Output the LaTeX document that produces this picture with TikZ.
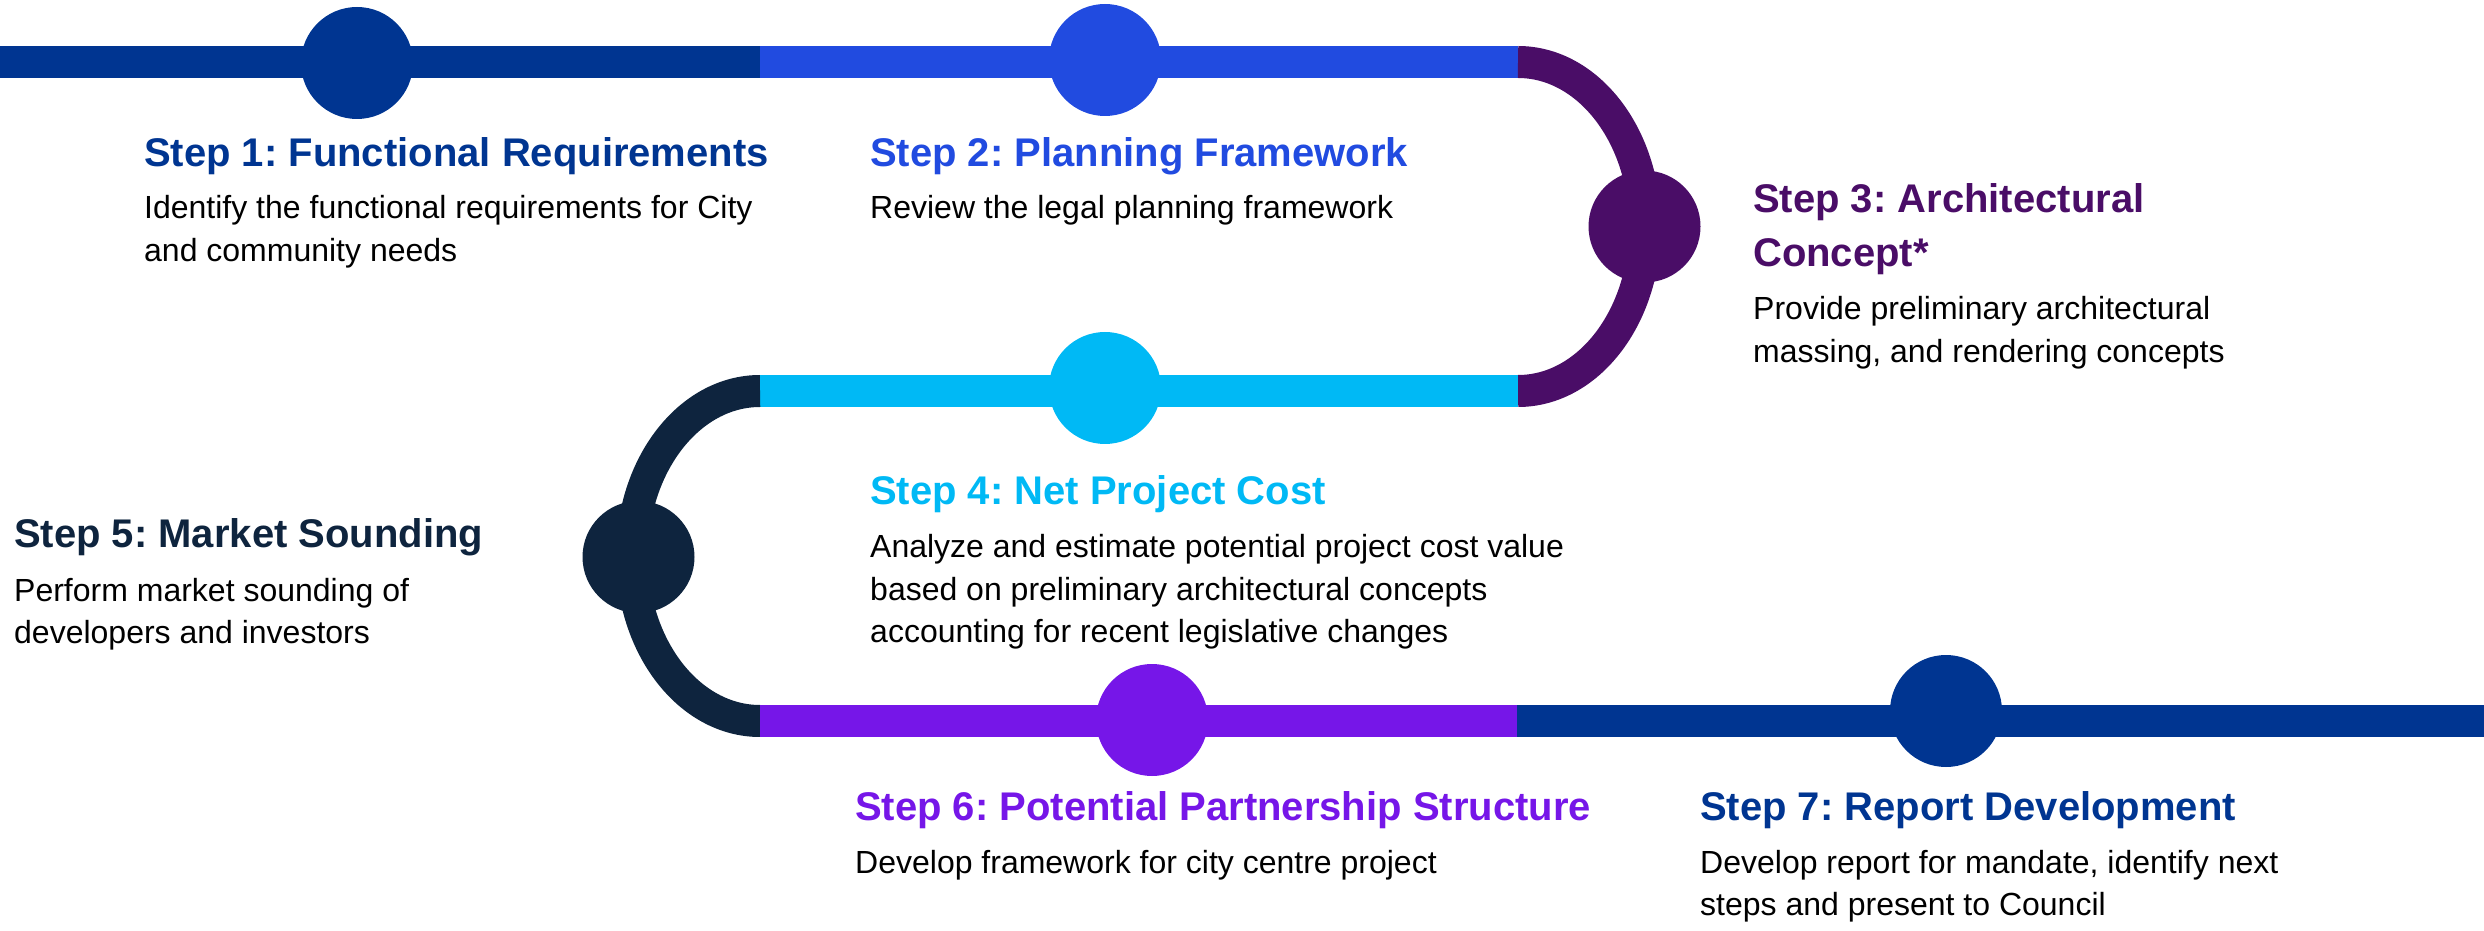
\documentclass[tikz,border=0pt]{standalone}
\usepackage{fontspec}
\setmainfont{Liberation Sans}
\frenchspacing
\definecolor{cnavy}{HTML}{003591}
\definecolor{cblue}{HTML}{214BE0}
\definecolor{cplum}{HTML}{4A0D67}
\definecolor{csky}{HTML}{00B9F5}
\definecolor{cdark}{HTML}{0E243E}
\definecolor{cviolet}{HTML}{7616E8}
\tikzset{
  track/.style={line width=32pt},
  dot/.style={circle, fill=#1, draw=none, minimum size=112pt, inner sep=0pt},
  title/.style={anchor=base west, inner sep=0pt, text=#1, font=\fontsize{40}{54}\selectfont\bfseries},
  body/.style={anchor=base west, inner sep=0pt, text=black, font=\fontsize{32}{42.5}\selectfont}
}
\newcommand{\lines}[1]{\begin{tabular}[t]{@{}l@{}}#1\end{tabular}}
\begin{document}
\begin{tikzpicture}[x=1pt,y=1pt]
\useasboundingbox (0,0) rectangle (2484,930);
% track coordinates
\coordinate (t0) at (0,868);
\coordinate (t1) at (760,868);
\coordinate (t2) at (1518,868);
\coordinate (m2) at (1518,539);
\coordinate (m1) at (760,539);
\coordinate (b1) at (760,209);
\coordinate (b2) at (1517,209);
\coordinate (b3) at (2484,209);
% track segments
\draw[track, cnavy] (t0) -- (t1);
\draw[track, cblue] (t1) -- (t2);
\draw[track, cplum] (t2) arc[start angle=90, end angle=-90, x radius=127, y radius=164.5];
\draw[track, csky] (m2) -- (m1);
\draw[track, cdark] (m1) arc[start angle=90, end angle=270, x radius=128, y radius=165];
\draw[track, cviolet] (b1) -- (b2);
\draw[track, cnavy] (b2) -- (b3);
% step markers
\node[dot=cnavy] (c1) at (357,867) {};
\node[dot=cblue] (c2) at (1105,870) {};
\node[dot=cplum] (c3) at (1644.5,703.5) {};
\node[dot=csky] (c4) at (1105,542) {};
\node[dot=cdark] (c5) at (638.5,373) {};
\node[dot=cviolet] (c6) at (1152,210) {};
\node[dot=cnavy] (c7) at (1946,219) {};
% texts
\node[title=cnavy] (s1t) at (144,763) {Step 1: Functional Requirements};
\node[body] (s1b) at (144,711) {\lines{Identify the functional requirements for City\\and community needs}};
\node[title=cblue] (s2t) at (870,763) {Step 2: Planning Framework};
\node[body] (s2b) at (870,711) {Review the legal planning framework};
\node[title=cplum] (s3t) at (1753,717) {\lines{Step 3: Architectural\\Concept*}};
\node[body] (s3b) at (1753,610) {\lines{Provide preliminary architectural\\massing, and rendering concepts}};
\node[title=csky] (s4t) at (870,425) {Step 4: Net Project Cost};
\node[body] (s4b) at (870,372) {\lines{Analyze and estimate potential project cost value\\based on preliminary architectural concepts\\accounting for recent legislative changes}};
\node[title=cdark] (s5t) at (14,382) {Step 5: Market Sounding};
\node[body] (s5b) at (14,329) {\lines{Perform market sounding of\\developers and investors}};
\node[title=cviolet] (s6t) at (855,110) {Step 6: Potential Partnership Structure};
\node[body] (s6b) at (855,57) {Develop framework for city centre project};
\node[title=cnavy] (s7t) at (1700,110) {Step 7: Report Development};
\node[body] (s7b) at (1700,57) {\lines{Develop report for mandate, identify next\\steps and present to Council}};
\end{tikzpicture}
\end{document}
